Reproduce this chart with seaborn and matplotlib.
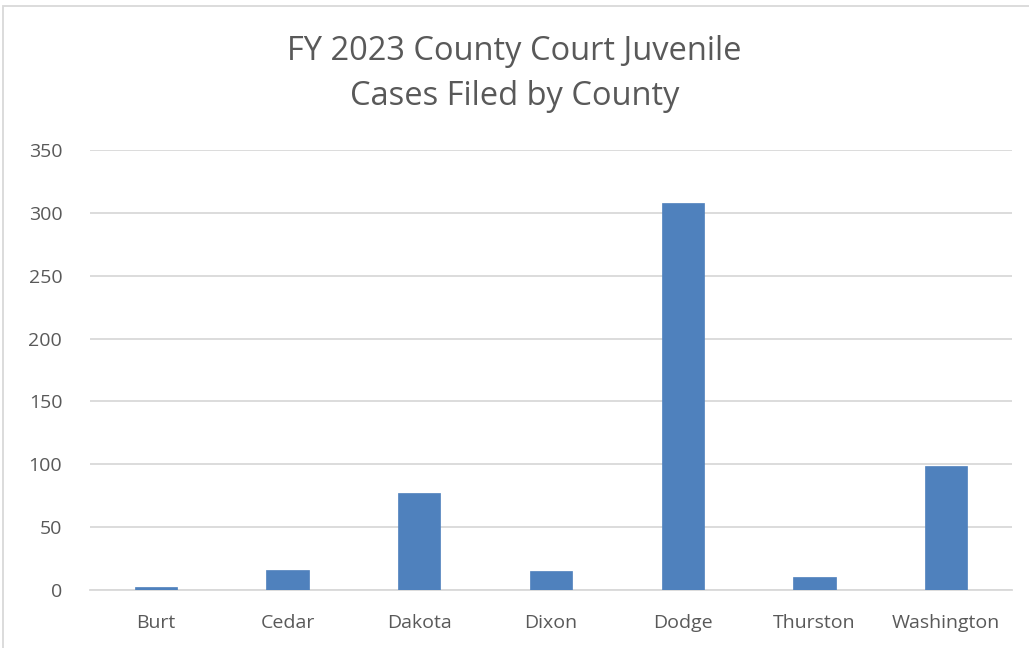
import matplotlib
matplotlib.use("Agg")
import matplotlib.pyplot as plt
import seaborn as sns
import pandas as pd
from matplotlib.patches import Rectangle

counties = ["Burt", "Cedar", "Dakota", "Dixon", "Dodge", "Thurston", "Washington"]
cases = [2, 16, 77, 15, 308, 10, 99]
yticks = [0, 50, 100, 150, 200, 250, 300, 350]
title = "FY 2023 County Court Juvenile\nCases Filed by County"

sns.set_theme(style="white")
plt.rcParams["font.family"] = ["Open Sans", "DejaVu Sans"]

df = pd.DataFrame({"County": counties, "Cases": cases})

fig = plt.figure(figsize=(10.29, 6.48), dpi=100)
ax = fig.add_axes([90/1029, 1-590/648, (1012-90)/1029, (590-150)/648])

sns.barplot(data=df, x="County", y="Cases", color="#4f81bd", saturation=1,
            width=0.32, ax=ax, edgecolor="#4f81bd", linewidth=0.5, zorder=3)

ax.set_ylim(0, 350)
ax.set_xlim(-0.5, len(counties) - 0.5)
ax.set_yticks(yticks)
ax.yaxis.grid(True, color="#d9d9d9", linewidth=1.3, zorder=0)
ax.set_axisbelow(True)
for s in ["top", "right", "left"]:
    ax.spines[s].set_visible(False)
ax.spines["bottom"].set_color("#d9d9d9")
ax.spines["bottom"].set_linewidth(1.3)
ax.set_xlabel("")
ax.set_ylabel("")
ax.tick_params(axis="y", length=0, pad=20, labelsize=14, labelcolor="#595959")
ax.tick_params(axis="x", length=0, pad=17, labelsize=14, labelcolor="#595959")

fig.text(0.5, 1-74/648, title, ha="center", va="center", fontsize=23.5,
         color="#595959", linespacing=1.5)

fig.patches.append(Rectangle((3/1029, -0.01), 1.02, 1-6/648+0.01, transform=fig.transFigure,
                             fill=False, edgecolor="#d9d9d9", linewidth=1.3))

fig.savefig("out.png", dpi=100)
